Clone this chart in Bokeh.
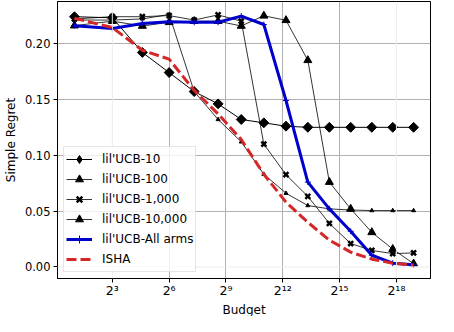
import numpy as np
from bokeh.plotting import figure
from bokeh.models import FixedTicker, Span, Legend, LegendItem, Range1d, NumeralTickFormatter, Title
from bokeh.embed import file_html
from bokeh.resources import INLINE

# Budget values (x) shared by all series
budget = [2, 8, 24, 64, 160, 384, 896, 2048, 4608, 10240, 22528, 49152, 106496, 229376, 491520]

ucb_10 = [0.224, 0.223, 0.192, 0.174, 0.157, 0.146, 0.132, 0.129, 0.126, 0.125, 0.125, 0.125, 0.125, 0.125, 0.125]
ucb_100 = [0.221, 0.221, 0.222, 0.226, 0.157, 0.132, 0.112, 0.083, 0.066, 0.055, 0.052, 0.051, 0.0505, 0.0505, 0.0505]
ucb_1000 = [0.222, 0.224, 0.224, 0.225, 0.221, 0.2256, 0.220, 0.110, 0.0826, 0.0632, 0.039, 0.021, 0.0148, 0.012, 0.0126]
ucb_10000 = [0.216, 0.220, 0.2157, 0.219, 0.220, 0.220, 0.2157, 0.2248, 0.2208, 0.185, 0.076, 0.052, 0.031, 0.016, 0.003]
ucb_all = [0.216, 0.2134, 0.218, 0.2194, 0.219, 0.219, 0.2245, 0.217, 0.149, 0.076, 0.052, 0.032, 0.0105, 0.0034, 0.002]
isha = [0.2226, 0.2143, 0.194, 0.186, 0.158, 0.137, 0.114, 0.083, 0.058, 0.040, 0.024, 0.0133, 0.007, 0.0034, 0.0018]

labels = ["lil'UCB-10", "lil'UCB-100", "lil'UCB-1,000", "lil'UCB-10,000", "lil'UCB-All arms", "ISHA"]

x_ticks = [8, 64, 512, 4096, 32768, 262144]
x_tick_labels = ["2³", "2⁶", "2⁹", "2¹²", "2¹⁵", "2¹⁸"]
y_ticks = [0.0, 0.05, 0.10, 0.15, 0.20]

FONT = "DejaVu Sans"
X_LO, X_HI = 1.0755, 912850
Y_LO, Y_HI = -0.0103, 0.2376

p = figure(width=438, height=316, x_axis_type="log",
           x_range=Range1d(X_LO, X_HI), y_range=Range1d(Y_LO, Y_HI),
           output_backend="svg", toolbar_location=None,
           min_border_left=40, min_border_right=8, min_border_top=1, min_border_bottom=0)

p.background_fill_color = "white"
p.border_fill_color = "white"
p.outline_line_color = "black"
p.outline_line_width = 1
p.outline_line_alpha = 1

# axes
p.xaxis.ticker = FixedTicker(ticks=x_ticks, minor_ticks=[])
p.xaxis.major_label_overrides = {t: l for t, l in zip(x_ticks, x_tick_labels)}
p.yaxis.ticker = FixedTicker(ticks=y_ticks, minor_ticks=[])
p.yaxis.formatter = NumeralTickFormatter(format="0.00")
for ax in (p.xaxis, p.yaxis):
    ax.axis_line_color = "black"
    ax.major_tick_line_color = "black"
    ax.major_tick_out = 4
    ax.major_tick_in = 0
    ax.minor_tick_line_color = None
    ax.major_label_text_font = FONT
    ax.major_label_text_font_size = "11.5px"
    ax.major_label_text_color = "black"
    ax.major_label_standoff = 3
    ax.axis_label_text_font = FONT
    ax.axis_label_text_font_size = "12px"
    ax.axis_label_text_font_style = "normal"
    ax.axis_label_text_color = "black"
    ax.axis_label_standoff = 4
p.xaxis.major_label_text_font_size = "12.5px"
p.xaxis.major_label_standoff = 0
p.yaxis.axis_label = "Simple Regret"

# x axis title as a panel below the axis
p.add_layout(Title(text="Budget", align="center", text_font=FONT, text_font_size="12px",
                   text_font_style="normal", text_color="black", standoff=0, offset=0), "below")

# grid
p.xgrid.ticker = FixedTicker(ticks=[64, 512, 4096, 32768])
p.ygrid.ticker = FixedTicker(ticks=[0.05, 0.10, 0.15, 0.20])
for g in (p.xgrid, p.ygrid):
    g.grid_line_color = "#b0b0b0"
    g.grid_line_width = 1
for loc, dim in ((8, "height"), (262144, "height"), (0.0, "width")):
    p.add_layout(Span(location=loc, dimension=dim, line_color="#ececec", line_width=1))

nan = [float("nan")]
items = []
# lil'UCB-10
l = p.line(budget, ucb_10, line_color="black", line_width=1)
s = p.scatter(budget, ucb_10, marker="square", angle=np.pi / 4, size=7, color="black")
proxy = p.scatter(nan, nan, marker="diamond", size=10, color="black")
items.append(LegendItem(label=labels[0], renderers=[l, proxy]))
# lil'UCB-100
l = p.line(budget, ucb_100, line_color="black", line_width=0.8)
s = p.scatter(budget, ucb_100, marker="triangle", size=4, color="black")
items.append(LegendItem(label=labels[1], renderers=[l, s]))
# lil'UCB-1,000
l = p.line(budget, ucb_1000, line_color="black", line_width=0.8)
s = p.scatter(budget, ucb_1000, marker="x", size=7, line_color="black", line_width=2.5)
items.append(LegendItem(label=labels[2], renderers=[l, s]))
# lil'UCB-10,000
l = p.line(budget, ucb_10000, line_color="black", line_width=0.8)
s = p.scatter(budget, ucb_10000, marker="triangle", size=8, color="black")
items.append(LegendItem(label=labels[3], renderers=[l, s]))
# All arms
l = p.line(budget, ucb_all, line_color="#0000cd", line_width=3)
s = p.scatter(budget, ucb_all, marker="cross", size=6, line_color="#0000cd", line_width=1)
items.append(LegendItem(label=labels[4], renderers=[l, s]))
# ISHA
l = p.line(budget, isha, line_color="#d62728", line_width=3, line_dash="10 4")
items.append(LegendItem(label=labels[5], renderers=[l]))

legend = Legend(items=items, location=(6, 6))
legend.label_text_font = FONT
legend.label_text_font_size = "12px"
legend.label_text_color = "black"
legend.glyph_width = 26
legend.glyph_height = 20
legend.label_height = 20
legend.spacing = 0
legend.padding = 2
legend.margin = 0
legend.label_standoff = 10
legend.border_line_color = "#cccccc"
legend.border_line_width = 1
legend.background_fill_color = "white"
legend.background_fill_alpha = 0.8
p.add_layout(legend, "center")

open("out.html", "w").write(file_html(p, INLINE))
